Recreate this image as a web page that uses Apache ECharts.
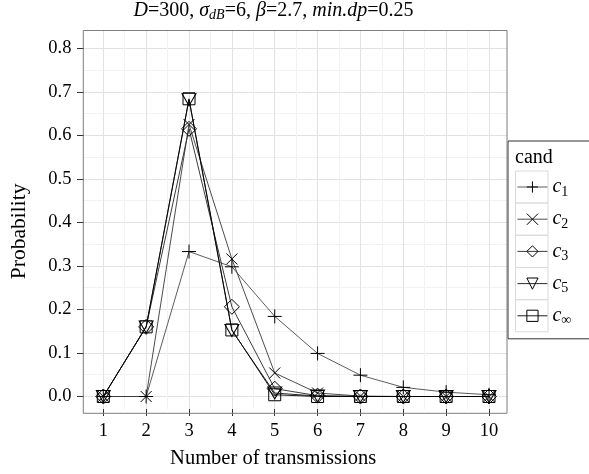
<!DOCTYPE html>
<html><head><meta charset="utf-8">
<script src="https://cdn.jsdelivr.net/npm/echarts@6/dist/echarts.min.js"></script>
<style>html,body{margin:0;padding:0;background:#fff}#c{width:589px;height:474px}</style>
</head><body><div id="c"></div>
<script>
// ---- data ----
const transmissions = [1, 2, 3, 4, 5, 6, 7, 8, 9, 10];
const seriesNames = ['c1', 'c2', 'c3', 'c5', 'cinf'];
const c1   = [0, 0,     0.333, 0.298, 0.184, 0.099, 0.049, 0.021, 0.010, 0.004];
const c2   = [0, 0,     0.625, 0.316, 0.054, 0.008, 0.001, 0,     0,     0];
const c3   = [0, 0.160, 0.615, 0.206, 0.018, 0.002, 0,     0,     0,     0];
const c5   = [0, 0.160, 0.682, 0.152, 0.008, 0.001, 0,     0,     0,     0];
const cinf = [0, 0.160, 0.684, 0.153, 0.004, 0,     0,     0,     0,     0];
const yTicks = [0, 0.1, 0.2, 0.3, 0.4, 0.5, 0.6, 0.7, 0.8];
const xTicks = transmissions;
const legendSubs = {c1: '1', c2: '2', c3: '3', c5: '5', cinf: '∞'};

// ---- style / layout ----
const F = "'Liberation Serif', 'DejaVu Serif', serif";
const P = {left: 83.3, top: 30.5, right: 507, bottom: 413.3};     // panel
const D = {left: 103.3, right: 489, top: 48.3, bottom: 396.5};     // data extent area
const symbols = {
  c1: {s: 'path://M0,5L10,5M5,0L5,10', size: 14},
  c2: {s: 'path://M0,0L10,10M10,0L0,10', size: 11},
  c3: {s: 'path://M5,0L10,5L5,10L0,5Z', size: 15},
  c5: {s: 'path://M0,0L10,0L5,8.66Z', size: [14, 12]},
  cinf: {s: 'path://M0,0L10,0L10,10L0,10Z', size: 12}
};
const lineColors = {c1: '#4a4a4a', c2: '#383838', c3: '#262626', c5: '#141414', cinf: '#000'};
const values = {c1, c2, c3, c5, cinf};

const legendTop = 141, padTop = 34, rowH = 24, rowGap = 8.2;

const chart = echarts.init(document.getElementById('c'), null, {renderer: 'canvas'});
const gridLine = {lineStyle: {color: '#e2e2e2', width: 1}};
const minorLine = {show: true, lineStyle: {color: '#f2f2f2', width: 1}};
const tickFont = 18.5, titleFont = 20.5;

const option = {
  animation: false,
  backgroundColor: '#fff',
  title: [{
    text: '{i|D}{n|=300, }{i|σ}{s|dB}{n|=6, }{i|β}{n|=2.7, }{i|min.dp}{n|=0.25}',
    left: 273.5, top: 0, textAlign: 'center', padding: 0,
    textStyle: {
      fontFamily: F, fontSize: 20, fontWeight: 'normal', color: '#000',
      rich: {
        i: {fontFamily: F, fontSize: 20, fontStyle: 'italic', color: '#000', lineHeight: 22},
        n: {fontFamily: F, fontSize: 20, color: '#000', lineHeight: 22},
        s: {fontFamily: F, fontSize: 14, fontStyle: 'italic', color: '#000', lineHeight: 14, padding: [8, 0, 0, 0]}
      }
    }
  }, {
    text: 'cand', left: 515, top: 148, padding: 0,
    textStyle: {fontFamily: F, fontSize: 20, fontWeight: 'normal', color: '#000'}
  }],
  grid: [
    {left: P.left, top: P.top, width: P.right - P.left, height: P.bottom - P.top,
     show: true, borderColor: '#7f7f7f', borderWidth: 1, backgroundColor: 'transparent', z: 10},
    {left: P.left, top: D.top, width: P.right - P.left, height: D.bottom - D.top},
    {left: D.left, top: P.top, width: D.right - D.left, height: P.bottom - P.top},
    {left: D.left, top: D.top, width: D.right - D.left, height: D.bottom - D.top}
  ],
  xAxis: [
    {gridIndex: 0, type: 'value', show: false, min: 0, max: 1},
    {gridIndex: 1, type: 'value', show: false, min: 0, max: 1},
    {gridIndex: 2, type: 'value', min: xTicks[0], max: xTicks[xTicks.length - 1], interval: 1,
     position: 'bottom',
     axisLine: {show: false},
     axisTick: {show: true, length: 7, lineStyle: {color: '#333'}},
     axisLabel: {margin: 12.5, fontFamily: F, fontSize: tickFont, color: '#000'},
     splitLine: gridLine,
     minorTick: {show: false, splitNumber: 2},
     minorSplitLine: minorLine,
     name: 'Number of transmissions', nameLocation: 'middle', nameGap: 39,
     nameTextStyle: {fontFamily: F, fontSize: titleFont, color: '#000', padding: [0, 46, 0, 0]}},
    {gridIndex: 3, type: 'value', show: false, min: xTicks[0], max: xTicks[xTicks.length - 1]}
  ],
  yAxis: [
    {gridIndex: 0, type: 'value', show: false, min: 0, max: 1},
    {gridIndex: 1, type: 'value', min: yTicks[0], max: yTicks[yTicks.length - 1], interval: 0.1,
     axisLine: {show: false},
     axisTick: {show: true, length: 7, lineStyle: {color: '#333'}},
     axisLabel: {margin: 12.6, fontFamily: F, fontSize: tickFont, color: '#000', formatter: v => v.toFixed(1)},
     splitLine: gridLine,
     minorTick: {show: false, splitNumber: 2},
     minorSplitLine: minorLine,
     name: 'Probability', nameLocation: 'middle', nameGap: 54, nameRotate: 90,
     nameTextStyle: {fontFamily: F, fontSize: 21.5, color: '#000', padding: [0, 18, 0, 0]}},
    {gridIndex: 2, type: 'value', show: false, min: 0, max: 1},
    {gridIndex: 3, type: 'value', show: false, min: yTicks[0], max: yTicks[yTicks.length - 1]}
  ],
  legend: {
    orient: 'vertical', left: 508, top: legendTop,
    padding: [padTop, 40, 11, 9],
    itemWidth: 30, itemHeight: 14, itemGap: rowGap, itemTextGap: 12,
    borderColor: '#333', borderWidth: 1, backgroundColor: 'transparent',
    itemStyle: {borderWidth: 1},
    lineStyle: {width: 0.9},
    data: seriesNames,
    formatter: name => '{i|c}{s|' + legendSubs[name] + '}',
    textStyle: {
      fontFamily: F, color: '#000',
      rich: {
        i: {fontFamily: F, fontSize: 20, fontStyle: 'italic', color: '#000', lineHeight: rowH},
        s: {fontFamily: F, fontSize: 14, color: '#000', lineHeight: 14, padding: [10, 0, 0, 0]}
      }
    }
  },
  graphic: seriesNames.map((n, i) => ({
    type: 'rect', z: 1,
    shape: {x: 515.5, y: legendTop + padTop + i * (rowH + rowGap) + rowH / 2 - 16, width: 32.5, height: 32},
    style: {fill: '#fff', stroke: '#d9d9d9', lineWidth: 1}
  })),
  series: seriesNames.map(n => ({
    name: n, type: 'line', xAxisIndex: 3, yAxisIndex: 3, clip: false,
    data: transmissions.map((x, i) => [x, values[n][i]]),
    symbol: symbols[n].s, symbolSize: symbols[n].size,
    lineStyle: {color: lineColors[n], width: 0.9},
    itemStyle: {color: 'transparent', borderColor: '#000', borderWidth: 1},
    emphasis: {disabled: true}
  }))
};
chart.setOption(option);
</script></body></html>
